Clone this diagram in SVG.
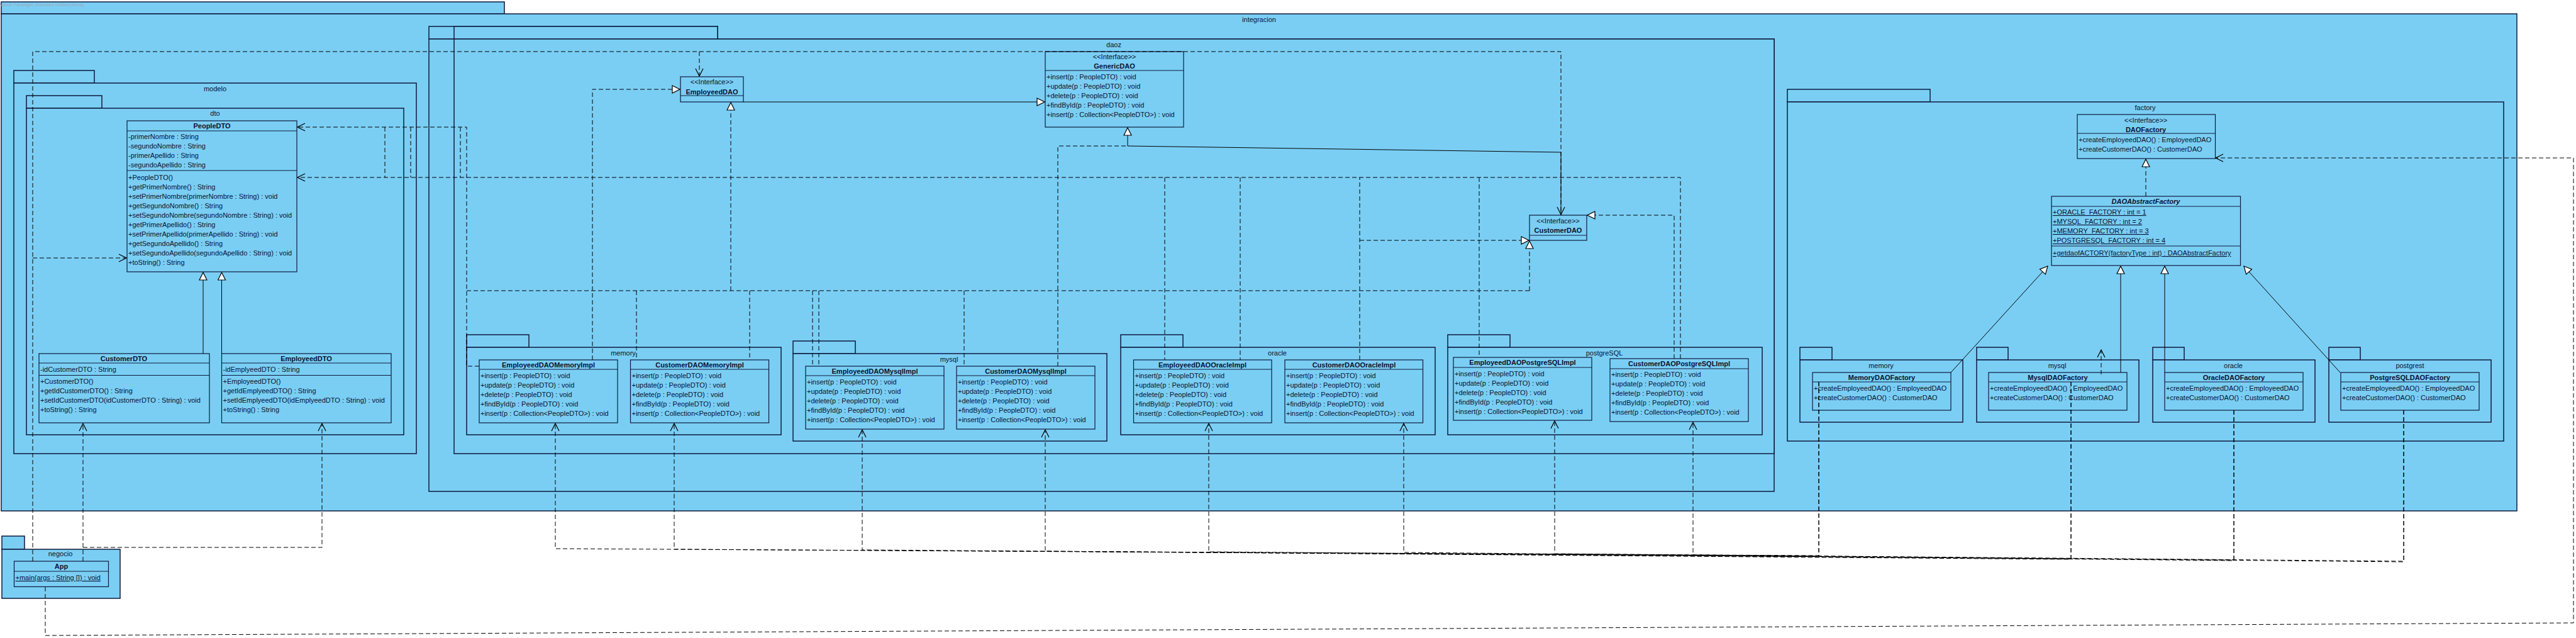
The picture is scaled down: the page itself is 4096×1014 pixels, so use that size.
<svg xmlns="http://www.w3.org/2000/svg" width="4096" height="1014" viewBox="0 0 4096 1014">
<style>
.pk{fill:#7ACEF4;stroke:#0e1a3c;stroke-width:1.5}
.cl{fill:#7ACEF4;stroke:#0e1a3c;stroke-width:1.2}
.sp{stroke:#0e1a3c;stroke-width:1.2}
text{font-family:"Liberation Sans",Arial,Helvetica,sans-serif;font-size:11px;fill:#0a1230}
.b{font-weight:bold}
.c{text-anchor:middle}
.i{font-style:italic}
.u{text-decoration:underline}
.d{fill:none;stroke:#000;stroke-width:1;stroke-dasharray:7 4}
.s{fill:none;stroke:#000;stroke-width:1}
.wm{font-size:7.5px;fill:#9aa9b8}
</style>
<defs>
<marker id="open" markerUnits="userSpaceOnUse" markerWidth="14" markerHeight="14" refX="13" refY="7" orient="auto">
<path d="M1,1 L13,7 L1,13" fill="none" stroke="#000" stroke-width="1.2" stroke-dasharray="none"/>
</marker>
<marker id="tri" markerUnits="userSpaceOnUse" markerWidth="14" markerHeight="14" refX="13" refY="7" orient="auto">
<path d="M1,1 L13,7 L1,13 Z" fill="#fff" stroke="#000" stroke-width="1.2" stroke-dasharray="none"/>
</marker>
</defs>
<rect x="0" y="0" width="4096" height="1014" fill="#fff"/>

<g id="pkg-integracion">
<rect class="pk" x="2" y="3" width="800" height="19"/>
<rect class="pk" x="2" y="22" width="4000" height="790"/>
<text class="c" x="2002" y="35">integracion</text>
<text class="wm" x="-1" y="10">Visual Paradigm Standard Edition(Sena)</text>
</g>

<g id="pkg-modelo">
<rect class="pk" x="22" y="112" width="128" height="20"/>
<rect class="pk" x="22" y="132" width="640" height="589"/>
<text class="c" x="342" y="145">modelo</text>
</g>
<g id="pkg-dto">
<rect class="pk" x="42" y="152" width="120" height="20"/>
<rect class="pk" x="42" y="172" width="600" height="519"/>
<text class="c" x="342" y="184">dto</text>
</g>

<g id="pkg-dao-outer">
<rect class="pk" x="682" y="42" width="459" height="20"/>
<rect class="pk" x="682" y="62" width="2139" height="719"/>
</g>
<g id="pkg-daoz">
<rect class="pk" x="722" y="42" width="419" height="20"/>
<rect class="pk" x="722" y="62" width="2099" height="659"/>
<text class="c" x="1771" y="75">daoz</text>
</g>
<g id="pkg-memory">
<rect class="pk" x="742" y="532" width="99" height="20"/>
<rect class="pk" x="742" y="552" width="500" height="139"/>
<text class="c" x="991" y="565">memory</text>
</g>
<g id="pkg-mysql">
<rect class="pk" x="1261" y="542" width="99" height="20"/>
<rect class="pk" x="1261" y="562" width="499" height="139"/>
<text class="c" x="1509" y="575">mysql</text>
</g>
<g id="pkg-oracle">
<rect class="pk" x="1782" y="532" width="99" height="20"/>
<rect class="pk" x="1782" y="552" width="500" height="139"/>
<text class="c" x="2031" y="565">oracle</text>
</g>
<g id="pkg-postgreSQL">
<rect class="pk" x="2302" y="532" width="99" height="20"/>
<rect class="pk" x="2302" y="552" width="500" height="139"/>
<text class="c" x="2551" y="565">postgreSQL</text>
</g>

<g id="pkg-factory">
<rect class="pk" x="2842" y="142" width="227" height="20"/>
<rect class="pk" x="2842" y="162" width="1139" height="539"/>
<text class="c" x="3411" y="175">factory</text>
</g>
<g id="pkg-f-memory">
<rect class="pk" x="2862" y="552" width="51" height="20"/>
<rect class="pk" x="2862" y="572" width="259" height="99"/>
<text class="c" x="2991" y="585">memory</text>
</g>
<g id="pkg-f-mysql">
<rect class="pk" x="3143" y="552" width="50" height="20"/>
<rect class="pk" x="3143" y="572" width="258" height="99"/>
<text class="c" x="3271" y="585">mysql</text>
</g>
<g id="pkg-f-oracle">
<rect class="pk" x="3423" y="552" width="50" height="20"/>
<rect class="pk" x="3423" y="572" width="258" height="99"/>
<text class="c" x="3551" y="585">oracle</text>
</g>
<g id="pkg-f-postgrest">
<rect class="pk" x="3703" y="552" width="50" height="20"/>
<rect class="pk" x="3703" y="572" width="258" height="99"/>
<text class="c" x="3832" y="585">postgrest</text>
</g>

<g id="pkg-negocio">
<rect class="pk" x="3" y="852" width="36" height="21"/>
<rect class="pk" x="3" y="873" width="188" height="78"/>
<text class="c" x="96" y="884">negocio</text>
</g>

<!-- classes -->
<g id="PeopleDTO">
<rect class="cl" x="202" y="192" width="270" height="240"/>
<line class="sp" x1="202" y1="208" x2="472" y2="208"/>
<line class="sp" x1="202" y1="271" x2="472" y2="271"/>
<text class="b c" x="337" y="204">PeopleDTO</text>
<text x="204" y="221"><tspan x="204">-primerNombre : String</tspan><tspan x="204" dy="15">-segundoNombre : String</tspan><tspan x="204" dy="15">-primerApellido : String</tspan><tspan x="204" dy="15">-segundoApellido : String</tspan></text>
<text x="204" y="286"><tspan x="204">+PeopleDTO()</tspan><tspan x="204" dy="15">+getPrimerNombre() : String</tspan><tspan x="204" dy="15">+setPrimerNombre(primerNombre : String) : void</tspan><tspan x="204" dy="15">+getSegundoNombre() : String</tspan><tspan x="204" dy="15">+setSegundoNombre(segundoNombre : String) : void</tspan><tspan x="204" dy="15">+getPrimerApellido() : String</tspan><tspan x="204" dy="15">+setPrimerApellido(primerApellido : String) : void</tspan><tspan x="204" dy="15">+getSegundoApellido() : String</tspan><tspan x="204" dy="15">+setSegundoApellido(segundoApellido : String) : void</tspan><tspan x="204" dy="15">+toString() : String</tspan></text>
</g>
<g id="CustomerDTO">
<rect class="cl" x="62" y="562" width="271" height="110"/>
<line class="sp" x1="62" y1="577" x2="333" y2="577"/>
<line class="sp" x1="62" y1="596.5" x2="333" y2="596.5"/>
<text class="b c" x="197" y="574">CustomerDTO</text>
<text x="64" y="591">-idCustomerDTO : String</text>
<text x="64" y="610"><tspan x="64">+CustomerDTO()</tspan><tspan x="64" dy="15">+getIdCustomerDTO() : String</tspan><tspan x="64" dy="15">+setIdCustomerDTO(idCustomerDTO : String) : void</tspan><tspan x="64" dy="15">+toString() : String</tspan></text>
</g>
<g id="EmployeedDTO">
<rect class="cl" x="352.5" y="562" width="269.5" height="110"/>
<line class="sp" x1="352.5" y1="577" x2="622" y2="577"/>
<line class="sp" x1="352.5" y1="596.5" x2="622" y2="596.5"/>
<text class="b c" x="487" y="574">EmployeedDTO</text>
<text x="354.5" y="591">-idEmplyeedDTO : String</text>
<text x="354.5" y="610"><tspan x="354.5">+EmployeedDTO()</tspan><tspan x="354.5" dy="15">+getIdEmplyeedDTO() : String</tspan><tspan x="354.5" dy="15">+setIdEmplyeedDTO(idEmplyeedDTO : String) : void</tspan><tspan x="354.5" dy="15">+toString() : String</tspan></text>
</g>

<g id="GenericDAO">
<rect class="cl" x="1662" y="82" width="220" height="120"/>
<line class="sp" x1="1662" y1="112" x2="1882" y2="112"/>
<text class="c" x="1772" y="94">&lt;&lt;Interface&gt;&gt;</text>
<text class="b c" x="1772" y="109">GenericDAO</text>
<text x="1664" y="126"><tspan x="1664">+insert(p : PeopleDTO) : void</tspan><tspan x="1664" dy="15">+update(p : PeopleDTO) : void</tspan><tspan x="1664" dy="15">+delete(p : PeopleDTO) : void</tspan><tspan x="1664" dy="15">+findById(p : PeopleDTO) : void</tspan><tspan x="1664" dy="15">+insert(p : Collection&lt;PeopleDTO&gt;) : void</tspan></text>
</g>
<g id="EmployeedDAO">
<rect class="cl" x="1082" y="122" width="100" height="40"/>
<line class="sp" x1="1082" y1="152" x2="1182" y2="152"/>
<text class="c" x="1132" y="134">&lt;&lt;Interface&gt;&gt;</text>
<text class="b c" x="1132" y="150">EmployeedDAO</text>
</g>
<g id="CustomerDAO">
<rect class="cl" x="2432" y="342" width="91" height="40"/>
<line class="sp" x1="2432" y1="374" x2="2523" y2="374"/>
<text class="c" x="2477.5" y="355">&lt;&lt;Interface&gt;&gt;</text>
<text class="b c" x="2477.5" y="370">CustomerDAO</text>
</g>

<g id="EmployeedDAOMemoryImpl">
<rect class="cl" x="762" y="572" width="220" height="100"/>
<line class="sp" x1="762" y1="587" x2="982" y2="587"/>
<text class="b c" x="872" y="584">EmployeedDAOMemoryImpl</text>
<text x="764" y="601"><tspan x="764">+insert(p : PeopleDTO) : void</tspan><tspan x="764" dy="15">+update(p : PeopleDTO) : void</tspan><tspan x="764" dy="15">+delete(p : PeopleDTO) : void</tspan><tspan x="764" dy="15">+findById(p : PeopleDTO) : void</tspan><tspan x="764" dy="15">+insert(p : Collection&lt;PeopleDTO&gt;) : void</tspan></text>
</g>
<g id="CustomerDAOMemoryImpl">
<rect class="cl" x="1002.5" y="572" width="220" height="100"/>
<line class="sp" x1="1002.5" y1="587" x2="1222.5" y2="587"/>
<text class="b c" x="1112.5" y="584">CustomerDAOMemoryImpl</text>
<text x="1004.5" y="601"><tspan x="1004.5">+insert(p : PeopleDTO) : void</tspan><tspan x="1004.5" dy="15">+update(p : PeopleDTO) : void</tspan><tspan x="1004.5" dy="15">+delete(p : PeopleDTO) : void</tspan><tspan x="1004.5" dy="15">+findById(p : PeopleDTO) : void</tspan><tspan x="1004.5" dy="15">+insert(p : Collection&lt;PeopleDTO&gt;) : void</tspan></text>
</g>
<g id="EmployeedDAOMysqlImpl">
<rect class="cl" x="1281" y="582" width="220" height="100"/>
<line class="sp" x1="1281" y1="597" x2="1501" y2="597"/>
<text class="b c" x="1391" y="594">EmployeedDAOMysqlImpl</text>
<text x="1283" y="611"><tspan x="1283">+insert(p : PeopleDTO) : void</tspan><tspan x="1283" dy="15">+update(p : PeopleDTO) : void</tspan><tspan x="1283" dy="15">+delete(p : PeopleDTO) : void</tspan><tspan x="1283" dy="15">+findById(p : PeopleDTO) : void</tspan><tspan x="1283" dy="15">+insert(p : Collection&lt;PeopleDTO&gt;) : void</tspan></text>
</g>
<g id="CustomerDAOMysqlImpl">
<rect class="cl" x="1521" y="582" width="220" height="100"/>
<line class="sp" x1="1521" y1="597" x2="1741" y2="597"/>
<text class="b c" x="1631" y="594">CustomerDAOMysqlImpl</text>
<text x="1523" y="611"><tspan x="1523">+insert(p : PeopleDTO) : void</tspan><tspan x="1523" dy="15">+update(p : PeopleDTO) : void</tspan><tspan x="1523" dy="15">+delete(p : PeopleDTO) : void</tspan><tspan x="1523" dy="15">+findById(p : PeopleDTO) : void</tspan><tspan x="1523" dy="15">+insert(p : Collection&lt;PeopleDTO&gt;) : void</tspan></text>
</g>
<g id="EmployeedDAOOracleImpl">
<rect class="cl" x="1802.5" y="572" width="219.5" height="100"/>
<line class="sp" x1="1802.5" y1="587" x2="2022" y2="587"/>
<text class="b c" x="1912" y="584">EmployeedDAOOracleImpl</text>
<text x="1804.5" y="601"><tspan x="1804.5">+insert(p : PeopleDTO) : void</tspan><tspan x="1804.5" dy="15">+update(p : PeopleDTO) : void</tspan><tspan x="1804.5" dy="15">+delete(p : PeopleDTO) : void</tspan><tspan x="1804.5" dy="15">+findById(p : PeopleDTO) : void</tspan><tspan x="1804.5" dy="15">+insert(p : Collection&lt;PeopleDTO&gt;) : void</tspan></text>
</g>
<g id="CustomerDAOOracleImpl">
<rect class="cl" x="2043" y="572" width="219.5" height="100"/>
<line class="sp" x1="2043" y1="587" x2="2262.5" y2="587"/>
<text class="b c" x="2153" y="584">CustomerDAOOracleImpl</text>
<text x="2045" y="601"><tspan x="2045">+insert(p : PeopleDTO) : void</tspan><tspan x="2045" dy="15">+update(p : PeopleDTO) : void</tspan><tspan x="2045" dy="15">+delete(p : PeopleDTO) : void</tspan><tspan x="2045" dy="15">+findById(p : PeopleDTO) : void</tspan><tspan x="2045" dy="15">+insert(p : Collection&lt;PeopleDTO&gt;) : void</tspan></text>
</g>
<g id="EmployeedDAOPostgreSQLImpl">
<rect class="cl" x="2311" y="568" width="220" height="100"/>
<line class="sp" x1="2311" y1="584" x2="2531" y2="584"/>
<text class="b c" x="2421" y="580">EmployeedDAOPostgreSQLImpl</text>
<text x="2313" y="598"><tspan x="2313">+insert(p : PeopleDTO) : void</tspan><tspan x="2313" dy="15">+update(p : PeopleDTO) : void</tspan><tspan x="2313" dy="15">+delete(p : PeopleDTO) : void</tspan><tspan x="2313" dy="15">+findById(p : PeopleDTO) : void</tspan><tspan x="2313" dy="15">+insert(p : Collection&lt;PeopleDTO&gt;) : void</tspan></text>
</g>
<g id="CustomerDAOPostgreSQLImpl">
<rect class="cl" x="2560" y="570" width="220" height="100"/>
<line class="sp" x1="2560" y1="586" x2="2780" y2="586"/>
<text class="b c" x="2670" y="582">CustomerDAOPostgreSQLImpl</text>
<text x="2562" y="599"><tspan x="2562">+insert(p : PeopleDTO) : void</tspan><tspan x="2562" dy="15">+update(p : PeopleDTO) : void</tspan><tspan x="2562" dy="15">+delete(p : PeopleDTO) : void</tspan><tspan x="2562" dy="15">+findById(p : PeopleDTO) : void</tspan><tspan x="2562" dy="15">+insert(p : Collection&lt;PeopleDTO&gt;) : void</tspan></text>
</g>

<g id="DAOFactory">
<rect class="cl" x="3303" y="182" width="219.5" height="70"/>
<line class="sp" x1="3303" y1="212" x2="3522.5" y2="212"/>
<text class="c" x="3412" y="195">&lt;&lt;Interface&gt;&gt;</text>
<text class="b c" x="3412" y="210">DAOFactory</text>
<text x="3305" y="226"><tspan x="3305">+createEmployeedDAO() : EmployeedDAO</tspan><tspan x="3305" dy="15">+createCustomerDAO() : CustomerDAO</tspan></text>
</g>
<g id="DAOAbstractFactory">
<rect class="cl" x="3262" y="312" width="300.5" height="110"/>
<line class="sp" x1="3262" y1="328" x2="3562.5" y2="328"/>
<line class="sp" x1="3262" y1="391" x2="3562.5" y2="391"/>
<text class="b i c" x="3412" y="324">DAOAbstractFactory</text>
<text class="u" x="3264" y="341"><tspan x="3264">+ORACLE_FACTORY : int = 1</tspan><tspan x="3264" dy="15">+MYSQL_FACTORY : int = 2</tspan><tspan x="3264" dy="15">+MEMORY_FACTORY : int = 3</tspan><tspan x="3264" dy="15">+POSTGRESQL_FACTORY : int = 4</tspan></text>
<text class="u" x="3264" y="406">+getdaofACTORY(factoryType : int) : DAOAbstractFactory</text>
</g>
<g id="MemoryDAOFactory">
<rect class="cl" x="2882" y="592" width="220" height="60"/>
<line class="sp" x1="2882" y1="607" x2="3102" y2="607"/>
<text class="b c" x="2992" y="604">MemoryDAOFactory</text>
<text x="2884" y="621"><tspan x="2884">+createEmployeedDAO() : EmployeedDAO</tspan><tspan x="2884" dy="15">+createCustomerDAO() : CustomerDAO</tspan></text>
</g>
<g id="MysqlDAOFactory">
<rect class="cl" x="3162" y="592" width="220" height="60"/>
<line class="sp" x1="3162" y1="607" x2="3382" y2="607"/>
<text class="b c" x="3272" y="604">MysqlDAOFactory</text>
<text x="3164" y="621"><tspan x="3164">+createEmployeedDAO() : EmployeedDAO</tspan><tspan x="3164" dy="15">+createCustomerDAO() : CustomerDAO</tspan></text>
</g>
<g id="OracleDAOFactory">
<rect class="cl" x="3442" y="592" width="220" height="60"/>
<line class="sp" x1="3442" y1="607" x2="3662" y2="607"/>
<text class="b c" x="3552" y="604">OracleDAOFactory</text>
<text x="3444" y="621"><tspan x="3444">+createEmployeedDAO() : EmployeedDAO</tspan><tspan x="3444" dy="15">+createCustomerDAO() : CustomerDAO</tspan></text>
</g>
<g id="PostgreSQLDAOFactory">
<rect class="cl" x="3722" y="592" width="220" height="60"/>
<line class="sp" x1="3722" y1="607" x2="3942" y2="607"/>
<text class="b c" x="3832" y="604">PostgreSQLDAOFactory</text>
<text x="3724" y="621"><tspan x="3724">+createEmployeedDAO() : EmployeedDAO</tspan><tspan x="3724" dy="15">+createCustomerDAO() : CustomerDAO</tspan></text>
</g>

<g id="App">
<rect class="cl" x="22.5" y="892" width="150" height="40.5"/>
<line class="sp" x1="22.5" y1="908" x2="172.5" y2="908"/>
<text class="b c" x="97.5" y="904">App</text>
<text class="u" x="24.5" y="922">+main(args : String []) : void</text>
</g>

<g id="connectors">
<!-- App dependencies -->
<path class="d" d="M52,892 V82 H2482 V341" marker-end="url(#open)"/>
<path class="d" d="M1112,82 V121" marker-end="url(#open)"/>
<path class="d" d="M52,410 H201" marker-end="url(#open)"/>
<path class="d" d="M132,892 V673" marker-end="url(#open)"/>
<path class="d" d="M132,870 H512 V673" marker-end="url(#open)"/>
<path class="d" d="M72,933 V1010 L4092,990 V251 H3523" marker-end="url(#open)"/>
<!-- DTO generalizations -->
<path class="s" d="M323,562 V433" marker-end="url(#tri)"/>
<path class="s" d="M352.5,562 V433" marker-end="url(#tri)"/>
<!-- interface generalizations -->
<path class="s" d="M1182,162 H1661" marker-end="url(#tri)"/>
<path class="s" d="M2482,342 V242 L1793,232 V203" marker-end="url(#tri)"/>
<!-- realizations -->
<path class="d" d="M942,572 V142 H1081" marker-end="url(#tri)"/>
<path class="d" d="M742,462 H2432"/>
<path class="d" d="M1162,462 V163" marker-end="url(#tri)"/>
<path class="d" d="M2432,462 V383" marker-end="url(#tri)"/>
<path class="d" d="M1012,462 V572 M1192,462 V572 M1292,462 V582 M1302,462 V582 M1533,462 V582"/>
<path class="d" d="M2162,572 V282"/>
<path class="d" d="M2162,382 H2431" marker-end="url(#tri)"/>
<path class="d" d="M2662,570 V342 H2524" marker-end="url(#tri)"/>
<path class="d" d="M1682,582 V232 H1793"/>
<!-- PeopleDTO dependencies -->
<path class="d" d="M762,582 H742 V202 H473" marker-end="url(#open)"/>
<path class="d" d="M612,202 V282 M653,202 V282 M732,202 V282"/>
<path class="d" d="M2672,570 V282 H473" marker-end="url(#open)"/>
<path class="d" d="M1852,282 V572 M1972,282 V572 M2352,282 V568"/>
<!-- factory to impl dependencies -->
<path class="d" d="M2892,607 V883 L883,872 V673" marker-end="url(#open)"/>
<path class="d" d="M2892,607 V884 L1072,873 V673" marker-end="url(#open)"/>
<path class="d" d="M3293,607 V888 L1371,874 V683" marker-end="url(#open)"/>
<path class="d" d="M3293,607 V889 L1662,876 V683" marker-end="url(#open)"/>
<path class="d" d="M3552,652 V890 L1922,877 V673" marker-end="url(#open)"/>
<path class="d" d="M3552,652 V891 L2232,878 V673" marker-end="url(#open)"/>
<path class="d" d="M3822,652 V892 L2472,880 V669" marker-end="url(#open)"/>
<path class="d" d="M3822,652 V893 L2692,882 V671" marker-end="url(#open)"/>
<!-- factory hierarchy -->
<path class="d" d="M3412,312 V253" marker-end="url(#tri)"/>
<path class="s" d="M3102,592 L3256,423" marker-end="url(#tri)"/>
<path class="s" d="M3372,592 V423" marker-end="url(#tri)"/>
<path class="s" d="M3442,592 V423" marker-end="url(#tri)"/>
<path class="s" d="M3721,592 L3568,423" marker-end="url(#tri)"/>
<path class="d" d="M3341,595 V556" marker-end="url(#open)"/>
</g>
</svg>
